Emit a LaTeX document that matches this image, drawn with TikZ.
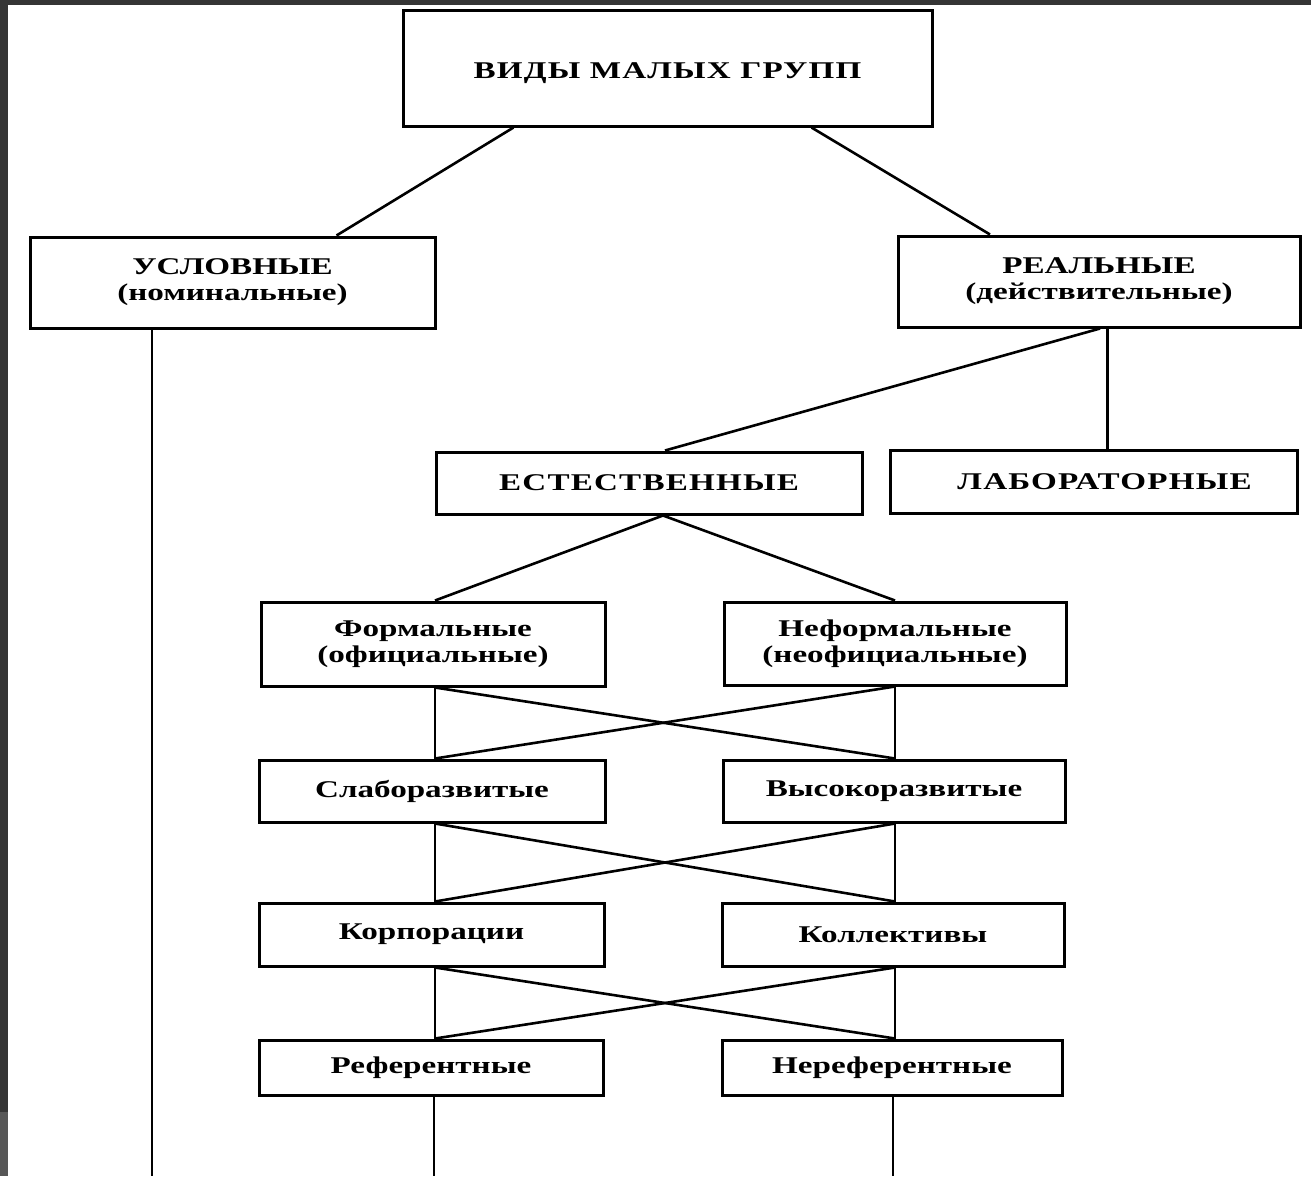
\documentclass[tikz,border=0pt]{standalone}
\usepackage{fontspec}
\setmainfont{Liberation Serif}[FakeStretch=1.38]
\usetikzlibrary{positioning,calc}
\definecolor{edgedark}{HTML}{353535}
\definecolor{edgelight}{HTML}{575757}

\begin{document}
\begin{tikzpicture}[
      x=1pt, y=-1pt,
      blk/.style={draw, line width=3pt, inner sep=0pt, align=center, font=\fontsize{24}{26}\selectfont\bfseries},
      caps/.style={blk, font=\fontsize{24}{26}\selectfont\bfseries\addfontfeatures{LetterSpace=5}},
      con/.style={line width=2.6pt}]
    \useasboundingbox (0,0) rectangle (1311,1176);
    \fill[white] (0,0) rectangle (1311,1176);
    \fill[edgedark] (0,0) rectangle (1311,5);
    \fill[edgedark] (0,0) rectangle (8,1112);
    \fill[edgelight] (0,1112) rectangle (8,1176);
    % levels
    \node[caps, minimum width=529pt, minimum height=116pt, text height=26pt] (vidy) at (667.5,68) {ВИДЫ МАЛЫХ ГРУПП};
    \node[blk, minimum width=405pt, minimum height=91pt] (usl) at (232.5,282.5) {УСЛОВНЫЕ\\(номинальные)};
    \node[blk, minimum width=402pt, minimum height=91pt] (real) at (1099,281.5) {РЕАЛЬНЫЕ\\(действительные)};
    \node[caps, minimum width=426pt, minimum height=62pt] (estest) at (649,483) {ЕСТЕСТВЕННЫЕ};
    \node[caps, minimum width=407pt, minimum height=63pt] (lab) at (1093.5,481.5) {\hspace*{22pt}ЛАБОРАТОРНЫЕ};
    \node[blk, minimum width=344pt, minimum height=84pt] (form) at (433,644) {Формальные\\(официальные)};
    \node[blk, minimum width=342pt, minimum height=83pt] (neform) at (895,643.5) {Неформальные\\(неофициальные)};
    \node[blk, minimum width=346pt, minimum height=62pt] (slabo) at (432,791) {Слаборазвитые};
    \node[blk, minimum width=342pt, minimum height=62pt] (vysoko) at (894,791) {Высокоразвитые};
    \node[blk, minimum width=345pt, minimum height=63pt] (korp) at (431.5,934.5) {Корпорации};
    \node[blk, minimum width=342pt, minimum height=63pt] (koll) at (893,934.5) {Коллективы};
    \node[blk, minimum width=344pt, minimum height=55pt] (ref) at (431,1067.5) {Референтные};
    \node[blk, minimum width=340pt, minimum height=55pt] (neref) at (892,1067.5) {Нереферентные};
    \coordinate (lx) at (435,0);
    \coordinate (rx) at (895,0);
    \coordinate (uslend) at (152,1176);
    \coordinate (refend) at (434,1176);
    \coordinate (nerefend) at (893,1176);
    % connectors
    \draw[con] ([xshift=-154pt]vidy.south) -- ([xshift=104pt]usl.north);
    \draw[con] ([xshift=144pt]vidy.south) -- ([xshift=-109pt]real.north);
    \draw[con] (uslend |- usl.south) -- (uslend);
    \draw[con] ([xshift=1pt]real.south) -- ([xshift=16pt]estest.north);
    \draw[con] ([xshift=14pt]lab.north |- real.south) -- ([xshift=14pt]lab.north);
    \draw[con] ([xshift=14pt]estest.south) -- ([xshift=2pt]form.north);
    \draw[con] ([xshift=14pt]estest.south) -- (neform.north);
    \draw[con] (lx |- form.south) -- (lx |- slabo.north);
    \draw[con] (rx |- neform.south) -- (rx |- vysoko.north);
    \draw[con] (lx |- form.south) -- (rx |- vysoko.north);
    \draw[con] (rx |- neform.south) -- (lx |- slabo.north);
    \draw[con] (lx |- slabo.south) -- (lx |- korp.north);
    \draw[con] (rx |- vysoko.south) -- (rx |- koll.north);
    \draw[con] (lx |- slabo.south) -- (rx |- koll.north);
    \draw[con] (rx |- vysoko.south) -- (lx |- korp.north);
    \draw[con] (lx |- korp.south) -- (lx |- ref.north);
    \draw[con] (rx |- koll.south) -- (rx |- neref.north);
    \draw[con] (lx |- korp.south) -- (rx |- neref.north);
    \draw[con] (rx |- koll.south) -- (lx |- ref.north);
    \draw[con] (refend |- ref.south) -- (refend);
    \draw[con] (nerefend |- neref.south) -- (nerefend);
  \end{tikzpicture}
\end{document}
